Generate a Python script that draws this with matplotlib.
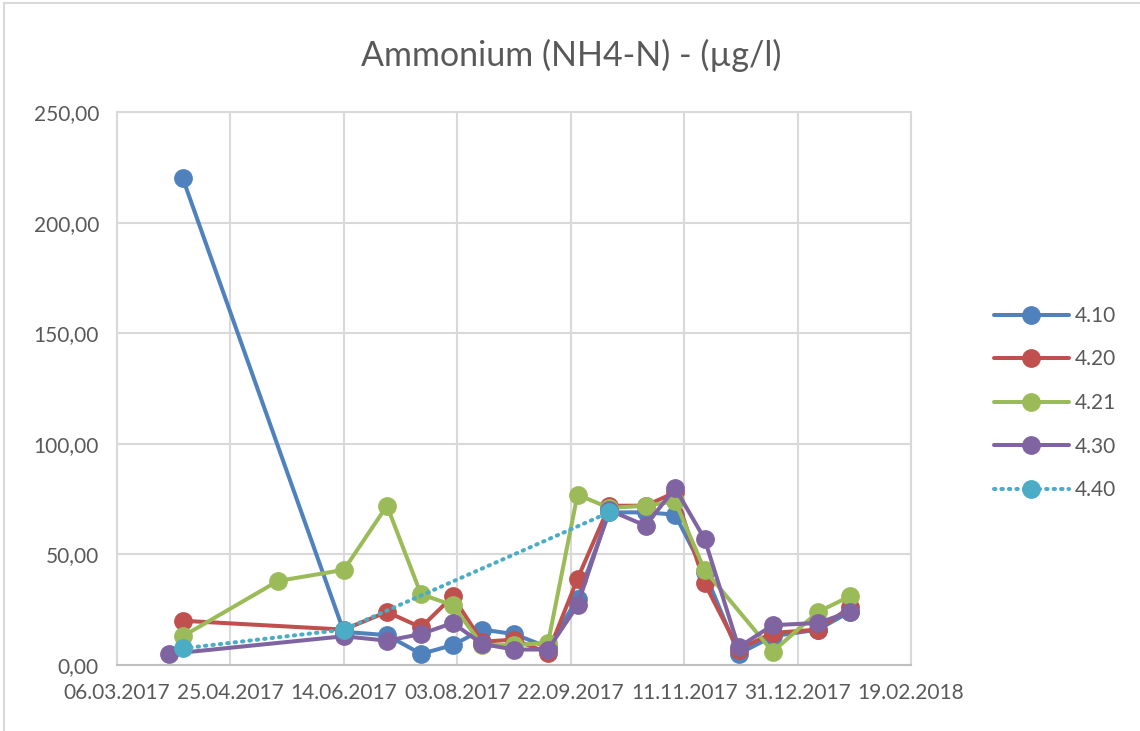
import datetime as dt
import numpy as np
import matplotlib
matplotlib.use("Agg")
from matplotlib import pyplot as plt
import matplotlib.dates as mdates
from matplotlib.lines import Line2D

plt.rcParams['font.family'] = ['Lato', 'DejaVu Sans']

# Probenahmedaten
dates = ["29.03.2017", "04.04.2017", "16.05.2017", "14.06.2017", "03.07.2017", "18.07.2017",
         "01.08.2017", "14.08.2017", "28.08.2017", "12.09.2017", "25.09.2017", "09.10.2017",
         "25.10.2017", "07.11.2017", "20.11.2017", "05.12.2017", "20.12.2017", "09.01.2018",
         "23.01.2018"]

# Messwerte je Station (None = keine Messung)
s410 = [None, 220, None, 15, 13.5, 5, 9, 16, 14, 8, 30, 69, 69, 68, 42, 5, 13, 16, 24]
s420 = [None, 20, None, 16, 24, 17, 31, 10.5, 11.5, 5.5, 39, 72, 72, 78, 37, 7, 14.5, 16, 26]
s421 = [None, 13, 38, 43, 72, 32, 27, 9, 9, 10, 77, 71, 72, 74, 43, None, 6, 24, 31]
s430 = [5, None, None, 13, 11, 14, 19, 9.5, 7, 7, 27, 70, 63, 80, 57, 8, 18, 19, 24]
s440 = [None, 7.5, None, 16, None, None, None, None, None, None, None, 69, None, None, None,
        None, None, None, None]

labels = ["4.10", "4.20", "4.21", "4.30", "4.40"]
colors = ["#4F81BD", "#C0504D", "#9BBB59", "#8064A2", "#4BACC6"]
series = [s410, s420, s421, s430, s440]

x = [dt.datetime.strptime(d, "%d.%m.%Y") for d in dates]

fig = plt.figure(figsize=(11.4, 7.31), dpi=100)
ax = fig.add_axes([117 / 1140, 66 / 731, 794 / 1140, 553 / 731])

for vals, lab, col in zip(series, labels, colors):
    xs = [xi for xi, v in zip(x, vals) if v is not None]
    ys = [v for v in vals if v is not None]
    ls = (0, (0.35, 1.5)) if lab == "4.40" else "-"
    ax.plot(xs, ys, color=col, lw=2.9, ls=ls, marker="o", markersize=12.5,
            label=lab, solid_capstyle="round", dash_capstyle="round", clip_on=False)

start = dt.datetime(2017, 3, 6)
end = dt.datetime(2018, 2, 19)
ax.set_xlim(start, end)
ax.set_ylim(0, 250)
ax.set_xticks([start + dt.timedelta(days=50 * i) for i in range(8)])
ax.xaxis.set_major_formatter(mdates.DateFormatter("%d.%m.%Y"))
ax.set_yticks(np.arange(0, 251, 50))
ax.yaxis.set_major_formatter(plt.FuncFormatter(lambda v, p: f"{v:.2f}".replace(".", ",")))

ax.grid(True, color="#D9D9D9", lw=1.5)
ax.set_axisbelow(True)
for sp in ax.spines.values():
    sp.set_color("#D9D9D9")
    sp.set_linewidth(1.5)
ax.spines["bottom"].set_color("#BFBFBF")
ax.tick_params(length=0, labelsize=15, colors="#595959")
ax.tick_params(axis="x", pad=13)
ax.tick_params(axis="y", pad=13)

fig.text(571 / 1140, 1 - 55 / 731, "Ammonium (NH4-N) - (µg/l)", ha="center", va="center",
         fontsize=24.5, color="#595959")

fig.legend(loc="center left", bbox_to_anchor=(975 / 1140, 1 - 403 / 731), frameon=False,
           fontsize=15, handlelength=3.6, labelspacing=1.13, handletextpad=0.3,
           labelcolor="#595959")

# Rahmen des Diagramms
fig.add_artist(Line2D([4 / 1140, 4 / 1140], [0, 1 - 3 / 731], color="#D9D9D9", lw=1.5))
fig.add_artist(Line2D([4 / 1140, 1], [1 - 3 / 731, 1 - 3 / 731], color="#D9D9D9", lw=1.5))

fig.savefig("out.png", dpi=100)
plt.close(fig)
